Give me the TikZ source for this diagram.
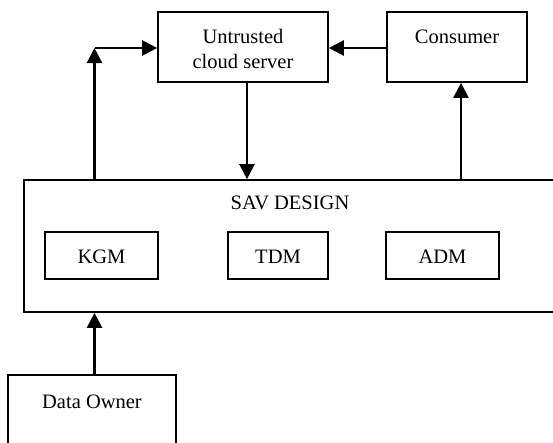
\documentclass[tikz,border=0pt]{standalone}
\usepackage{fontspec}
\setmainfont{Liberation Serif}
\usetikzlibrary{arrows.meta}
\begin{document}
\begin{tikzpicture}[x=1pt,y=1pt,
  box/.style={draw=black,line width=1.7pt,rectangle,inner sep=0pt},
  lbl/.style={inner sep=0pt,align=center,font=\fontsize{20.5}{24.5}\selectfont},
  arr/.style={line width=2.3pt,-{Triangle[length=15pt,width=15pt]}}]
\useasboundingbox (0,0) rectangle (553,-442);
% boxes
\node[box,minimum width=170pt,minimum height=70pt] (cloud) at (243,-47) {};
\node[lbl] (cloudlbl) at (243,-49) {Untrusted\\cloud server};
\node[box,minimum width=140pt,minimum height=70pt] (consumer) at (457,-47) {};
\node[lbl] (consumerlbl) at (457,-37) {Consumer};
\node[box,minimum width=532pt,minimum height=132pt] (sav) at (290,-246) {};
\node[lbl] (savlbl) at (290,-203) {SAV DESIGN};
\node[box,minimum width=113pt,minimum height=47pt] (kgm) at (101.5,-255.5) {};
\node[lbl] (kgmlbl) at (101.5,-257) {KGM};
\node[box,minimum width=100pt,minimum height=47pt] (tdm) at (278,-255.5) {};
\node[lbl] (tdmlbl) at (278,-257) {TDM};
\node[box,minimum width=113pt,minimum height=47pt] (adm) at (442.5,-255.5) {};
\node[lbl] (admlbl) at (442.5,-257) {ADM};
\node[box,minimum width=168pt,minimum height=80pt] (owner) at (92,-415) {};
\node[lbl] (ownerlbl) at (92,-402) {Data Owner};
% connectors
\coordinate (corner) at (94.5,-48);
\coordinate (savl) at (94.5,-180);
\coordinate (savm) at (247,-180);
\coordinate (savr) at (461,-180);
\draw[arr] (sav.north -| savl) -- (corner);
\draw[arr] (corner) -- (cloud.west |- corner);
\draw[arr] (consumer.west |- corner) -- (cloud.east |- corner);
\draw[arr] (cloud.south -| savm) -- (sav.north -| savm);
\draw[arr] (sav.north -| savr) -- (consumer.south -| savr);
\draw[arr] (owner.north -| savl) -- (sav.south -| savl);
\end{tikzpicture}
\end{document}
